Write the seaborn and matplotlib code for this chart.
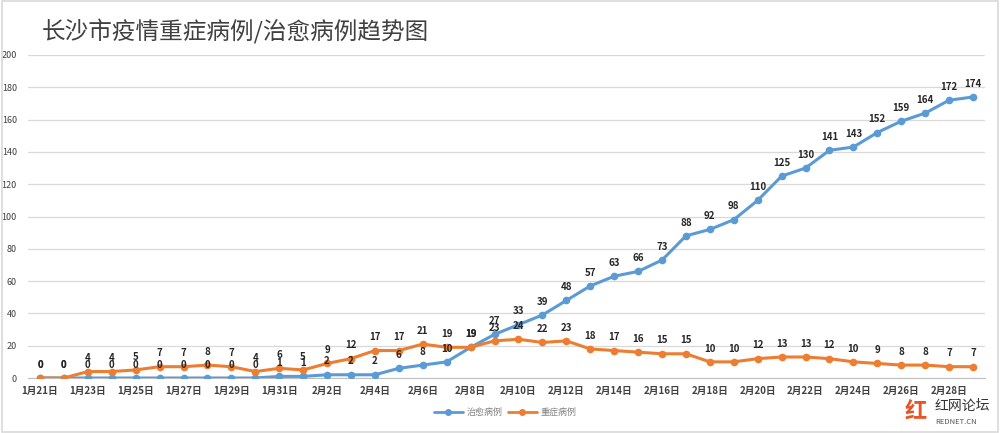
import pandas as pd
import numpy as np
import matplotlib.pyplot as plt
import seaborn as sns
from matplotlib.lines import Line2D
from matplotlib.patches import Rectangle

# --- data ---
dates = ["1月21日", "1月22日", "1月23日", "1月24日", "1月25日", "1月26日", "1月27日",
         "1月28日", "1月29日", "1月30日", "1月31日", "2月1日", "2月2日", "2月3日",
         "2月4日", "2月5日", "2月6日", "2月7日", "2月8日", "2月9日", "2月10日",
         "2月11日", "2月12日", "2月13日", "2月14日", "2月15日", "2月16日", "2月17日",
         "2月18日", "2月19日", "2月20日", "2月21日", "2月22日", "2月23日", "2月24日",
         "2月25日", "2月26日", "2月27日", "2月28日", "2月29日"]
cured = [0, 0, 0, 0, 0, 0, 0, 0, 0, 0, 1, 1, 2, 2, 2, 6, 8, 10, 19, 27,
         33, 39, 48, 57, 63, 66, 73, 88, 92, 98, 110, 125, 130, 141, 143, 152, 159, 164, 172, 174]
severe = [0, 0, 4, 4, 5, 7, 7, 8, 7, 4, 6, 5, 9, 12, 17, 17, 21, 19, 19, 23,
          24, 22, 23, 18, 17, 16, 15, 15, 10, 10, 12, 13, 13, 12, 10, 9, 8, 8, 7, 7]
series_names = ["治愈病例", "重症病例"]
colors = ["#5B9BD5", "#ED7D31"]
title = "长沙市疫情重症病例/治愈病例趋势图"

sns.set_style("white")
plt.rcParams['font.family'] = ['Noto Sans CJK SC', 'DejaVu Sans']

n = len(dates)
df = pd.DataFrame({
    'idx': list(range(n)) * 2,
    'value': cured + severe,
    'series': [series_names[0]] * n + [series_names[1]] * n,
})

fig = plt.figure(figsize=(10, 4.33), dpi=100)
ax = fig.add_axes([0.028, 0.127, 0.957, 0.746])

sns.lineplot(data=df, x='idx', y='value', hue='series', hue_order=series_names,
             palette=colors, marker='o', markersize=5.5, markeredgewidth=0,
             linewidth=2.2, legend=False, ax=ax, zorder=3)

# data labels
for vals in (cured, severe):
    for i, v in enumerate(vals):
        ax.annotate(str(v), (i, v), xytext=(0, 6), textcoords='offset points',
                    ha='center', va='bottom', fontsize=7, fontweight='bold',
                    color='#262626', zorder=5)

ax.set_xlim(-0.5, n - 0.5)
ax.set_ylim(0, 200)
ax.set_yticks(range(0, 201, 20))
ax.yaxis.grid(True, color='#D9D9D9', linewidth=0.9)
ax.set_axisbelow(True)
ax.tick_params(axis='y', length=0, labelsize=6.5, labelcolor='#404040', pad=8)

ax.set_xticks(range(0, n, 2))
ax.set_xticklabels(dates[::2], fontsize=7, fontweight='bold', color='#404040')
ax.set_xticks(np.arange(-0.5, n, 2), minor=True)
ax.tick_params(axis='x', which='major', length=0, pad=6)
ax.tick_params(axis='x', which='minor', length=4, color='#BFBFBF', width=0.8)
ax.set_xlabel('')
ax.set_ylabel('')

for s in ['top', 'right', 'left']:
    ax.spines[s].set_visible(False)
ax.spines['bottom'].set_color('#BFBFBF')

fig.text(0.042, 0.925, title, fontsize=17, color='#404040', va='center', ha='left')

handles = [Line2D([0], [0], color=c, marker='o', markersize=4, linewidth=2) for c in colors]
fig.legend(handles, series_names, loc='center', bbox_to_anchor=(0.505, 0.048), ncol=2,
           frameon=False, fontsize=6.5, labelcolor='#808080', handlelength=3.2,
           columnspacing=0.6, handletextpad=0.4)

# watermark
fig.text(0.935, 0.062, "红网论坛", fontsize=10, color='#333333', ha='left', va='center')
fig.text(0.935, 0.025, "REDNET.CN", fontsize=5.5, color='#555555', ha='left', va='center')
fig.text(0.905, 0.048, "红", fontsize=16, color='#E8542A', ha='left', va='center',
         fontweight='bold')

fig.patches.append(Rectangle((0.002, 0.003), 0.996, 0.994, transform=fig.transFigure,
                             fill=False, edgecolor='#D9D9D9', linewidth=1.2))

fig.savefig('out.png', dpi=100)
